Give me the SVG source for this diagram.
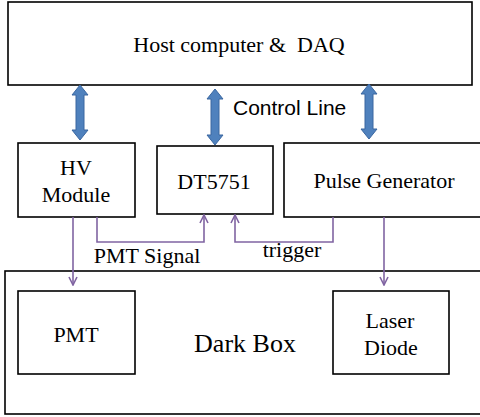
<svg xmlns="http://www.w3.org/2000/svg" width="480" height="417" viewBox="0 0 480 417">
<style>
.box{fill:#fff;stroke:#000;stroke-width:1.6}
.t{font-family:"Liberation Serif","Times New Roman",serif;font-size:22px;fill:#000;text-anchor:middle}
.s{font-family:"Liberation Sans",Arial,sans-serif;font-size:21px;fill:#000}
.dbl{fill:#4F81BD;stroke:#3A66A0;stroke-width:1}
.sig{fill:none;stroke:#8064A2;stroke-width:1.6}
</style>
<defs>
<marker id="ah" viewBox="0 0 10 10" refX="9" refY="5" markerWidth="10" markerHeight="10" markerUnits="userSpaceOnUse" orient="auto">
<path d="M1,1 L9,5 L1,9" fill="none" stroke="#8064A2" stroke-width="1.6"/>
</marker>
</defs>
<rect width="480" height="417" fill="#fff"/>
<g id="darkbox">
<rect class="box" x="5" y="271" width="480" height="143"/>
<text class="t" x="245" y="352" style="font-size:26px">Dark Box</text>
</g>
<g id="host">
<rect class="box" x="8" y="2" width="464" height="83"/>
<text class="t" x="239" y="52" xml:space="preserve">Host computer &amp;  DAQ</text>
</g>
<g id="hv">
<rect class="box" x="18" y="143" width="117" height="74"/>
<text class="t" x="76" y="175">HV</text>
<text class="t" x="76" y="202">Module</text>
</g>
<g id="dt5751">
<rect class="box" x="157" y="146" width="116" height="68"/>
<text class="t" x="214" y="189">DT5751</text>
</g>
<g id="pulse">
<rect class="box" x="284" y="143" width="200" height="74"/>
<text class="t" x="384" y="188">Pulse Generator</text>
</g>
<g id="pmt">
<rect class="box" x="18" y="291" width="117" height="83"/>
<text class="t" x="76" y="342">PMT</text>
</g>
<g id="laser">
<rect class="box" x="333" y="291" width="116" height="83"/>
<text class="t" x="390" y="328">Laser</text>
<text class="t" x="391" y="355">Diode</text>
</g>
<g id="connectors">
<path class="dbl" d="M80,85 L88,95 L84,95 L84,130 L88,130 L80,140 L72,130 L76,130 L76,95 L72,95 Z"/>
<path class="dbl" d="M215,89 L223,99 L219,99 L219,135 L223,135 L215,145 L207,135 L211,135 L211,99 L207,99 Z"/>
<path class="dbl" d="M369,84 L377,94 L373,94 L373,129 L377,129 L369,139 L361,129 L365,129 L365,94 L361,94 Z"/>
<text class="s" x="233" y="115">Control Line</text>
<path class="sig" d="M73,217 L73,285" marker-end="url(#ah)"/>
<path class="sig" d="M97,217 L97,242 L204,242 L204,215" marker-end="url(#ah)"/>
<path class="sig" d="M333,217 L333,242 L235,242 L235,215" marker-end="url(#ah)"/>
<path class="sig" d="M384,217 L384,285" marker-end="url(#ah)"/>
<text class="t" x="147" y="263">PMT Signal</text>
<text class="t" x="292" y="257">trigger</text>
</g>
</svg>
